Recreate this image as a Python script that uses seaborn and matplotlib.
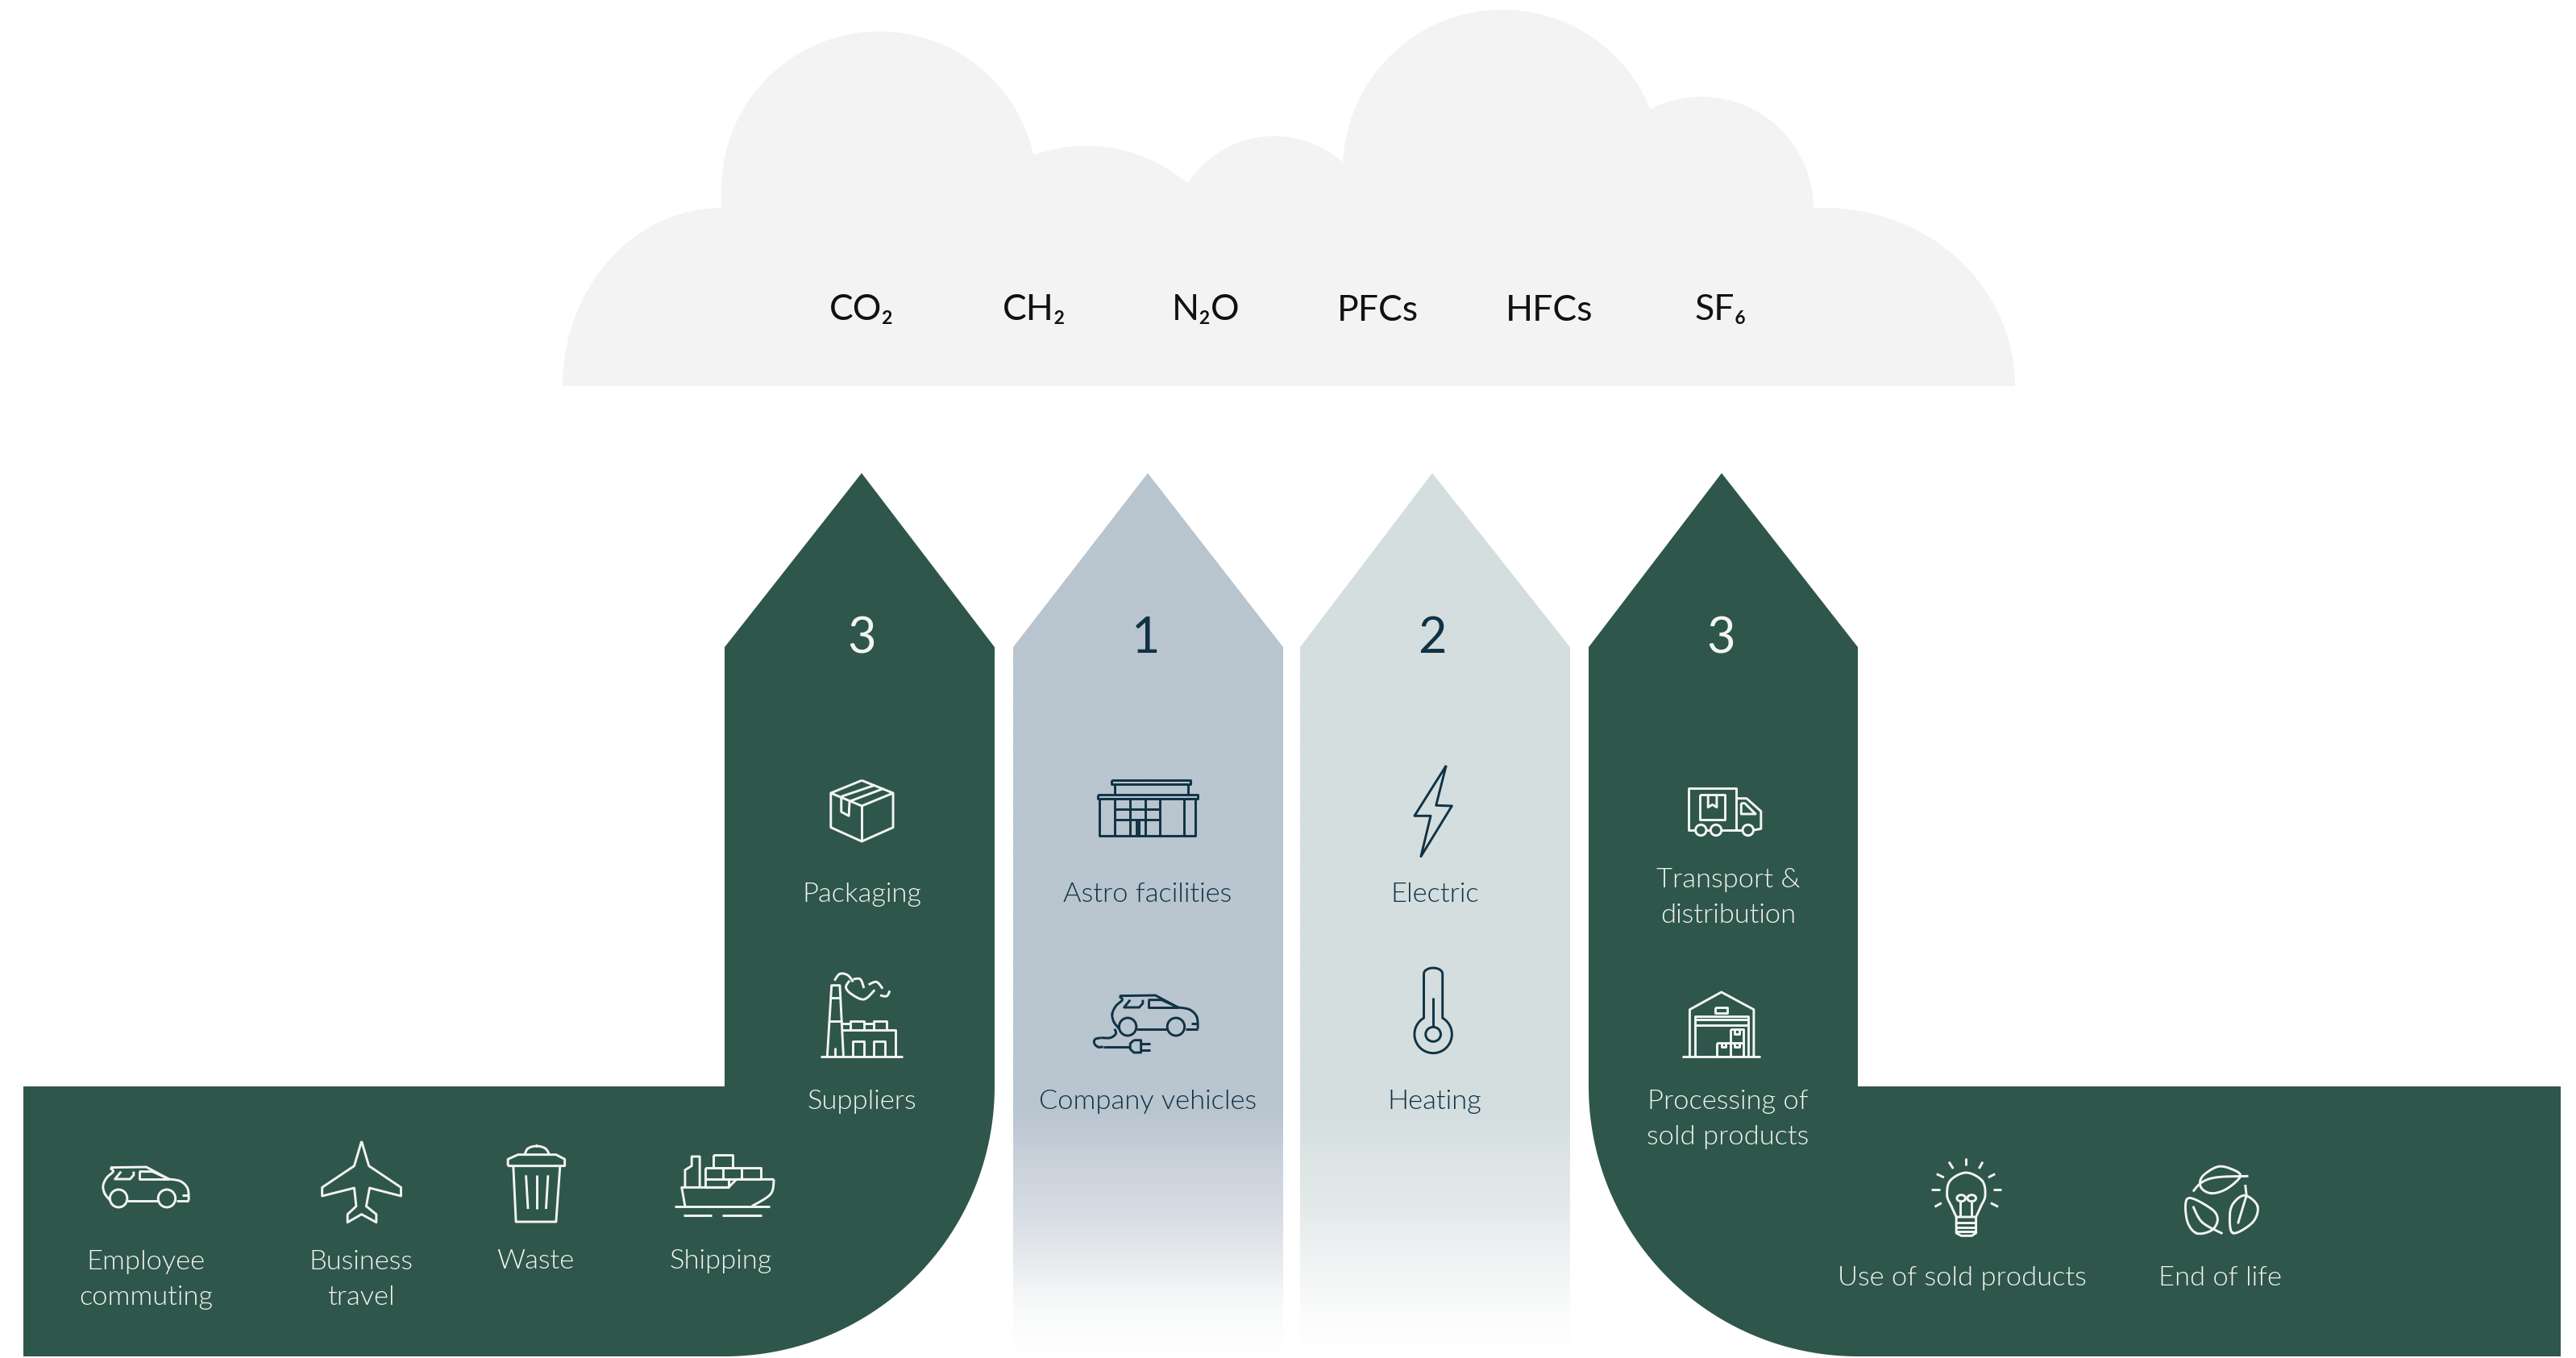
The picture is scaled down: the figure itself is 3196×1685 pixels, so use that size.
import numpy as np
import matplotlib
matplotlib.use("Agg")
import matplotlib.pyplot as plt
from matplotlib import font_manager as fm
from matplotlib.colors import LinearSegmentedColormap
from matplotlib.patches import Polygon, Ellipse
import seaborn as sns

# ---- content ----
gases = ["CO₂", "CH₂", "N₂O", "PFCs", "HFCs", "SF₆"]
scope_numbers = ["3", "1", "2", "3"]
scope3_up_labels = ["Packaging", "Suppliers", "Employee\ncommuting", "Business\ntravel", "Waste", "Shipping"]
scope1_labels = ["Astro facilities", "Company vehicles"]
scope2_labels = ["Electric", "Heating"]
scope3_down_labels = ["Transport &\ndistribution", "Processing of\nsold products", "Use of sold products", "End of life"]

DARK = "#2f564b"
INK = "#0f3245"
PALE = "#f2f5f3"
CLOUD = "#f3f3f3"

sns.set_theme(style="white")
plt.rcParams["font.family"] = ["Lato", "Noto Sans", "DejaVu Sans"]

# a light (not hairline) cut for the labels
light_file = None
for f in fm.fontManager.ttflist:
    low = f.fname.lower()
    if "lato-light" in low and "italic" not in low:
        light_file = f.fname
        break
LIGHT = fm.FontProperties(fname=light_file) if light_file else fm.FontProperties(family="Lato", weight=300)

W, H = 3196, 1685
fig = plt.figure(figsize=(W / 100, H / 100), dpi=100)
ax = fig.add_axes([0, 0, 1, 1])
sns.despine(ax=ax, left=True, bottom=True, top=True, right=True)
ax.set_xticks([]); ax.set_yticks([])


def arc(cx, cy, rx, ry, a0, a1, n=80):
    t = np.radians(np.linspace(a0, a1, n))
    return np.c_[cx + rx * np.cos(t), cy - ry * np.sin(t)]


# ---- cloud ----
cloud_outline = np.vstack([
    arc(895, 479, 197, 221, 180, 90),
    arc(1091, 235, 196, 196, 180, 13),
    arc(1348, 373, 192, 192, 110, 49),
    arc(1581, 297, 128, 128, 147, 48),
    arc(1864, 210, 198, 198, 180, 22),
    arc(2111, 259, 139, 139, 117, 0),
    arc(2264, 479, 236, 221, 90, 0),
])
ax.add_patch(Polygon(cloud_outline, closed=True, fc=CLOUD, ec="none", zorder=1))

# ---- arrows ----
TIP, SH, BAND, BOT = 587, 803, 1348, 1683
left_band = np.vstack([
    [[29, BAND], [899, BAND], [899, SH], [1069, TIP], [1234, SH]],
    arc(899, BAND, 335, 335, 0, -90),
    [[29, BOT]],
])
ax.add_patch(Polygon(left_band, closed=True, fc=DARK, ec="none", zorder=2))
right_band = np.vstack([
    [[3177, BAND], [2305, BAND], [2305, SH], [2136, TIP], [1971, SH]],
    arc(2305, BAND, 334, 335, 180, 270),
    [[3177, BOT]],
])
ax.add_patch(Polygon(right_band, closed=True, fc=DARK, ec="none", zorder=2))


def fade_column(x0, x1, tip_x, stops):
    pos = [(y - TIP) / (BOT - TIP) for y, _ in stops]
    cmap = LinearSegmentedColormap.from_list("fade", list(zip(pos, [s[1] for s in stops])), N=512)
    grad = np.linspace(0, 1, 1024)[:, None]
    im = ax.imshow(grad, cmap=cmap, vmin=0, vmax=1, extent=(x0, x1, BOT, TIP),
                   aspect="auto", zorder=2, interpolation="bilinear")
    clip = Polygon([[x0, BOT], [x0, SH], [tip_x, TIP], [x1, SH], [x1, BOT]],
                   closed=True, transform=ax.transData, fc="none", ec="none")
    ax.add_patch(clip)
    im.set_clip_path(clip)


s1 = [(587, "#b9c5cf"), (1380, "#b9c5cf"), (1433, "#c8d0da"), (1500, "#d5dbe3"), (1567, "#e8ebee"),
      (1600, "#f3f4f5"), (1633, "#fafbfb"), (1683, "#ffffff")]
s2 = [(587, "#d4dede"), (1380, "#d4dede"), (1433, "#dce4e4"), (1500, "#e4eaea"), (1567, "#f1f4f4"),
      (1600, "#f6f8f8"), (1633, "#fbfcfc"), (1683, "#ffffff")]
fade_column(1257, 1592, 1424, s1)
fade_column(1613, 1948, 1777, s2)


# ---- helpers for line icons ----
LW = 2.1


def T3(p): return [(900 + x / 2.24, 900 + y / 3) for x, y in p]
def T4(p): return [(1600 + x / 2.24, 900 + y / 3) for x, y in p]
def T2(p): return [(x / 1.206, 1300 + y / 3) for x, y in p]
def T5(p): return [(2000 + x / 1.311, 1300 + y / 3) for x, y in p]


def line(T, pts, c, closed=False):
    p = T(pts)
    if closed:
        p = p + [p[0]]
    a = np.array(p)
    ax.plot(a[:, 0], a[:, 1], color=c, lw=LW, solid_joinstyle="round", solid_capstyle="butt", zorder=5)


def smooth(T, pts, c, closed=False):
    p = np.array(T(pts), float)
    if closed:
        p = np.vstack([p[-1], p, p[0], p[1]])
    else:
        p = np.vstack([p[0], p, p[-1]])
    out = []
    for i in range(1, len(p) - 2):
        for t in np.linspace(0, 1, 14):
            a, b, d, e = p[i - 1], p[i], p[i + 1], p[i + 2]
            out.append(0.5 * (2 * b + (d - a) * t + (2 * a - 5 * b + 4 * d - e) * t ** 2 + (3 * b - a - 3 * d + e) * t ** 3))
    out = np.array(out)
    ax.plot(out[:, 0], out[:, 1], color=c, lw=LW, solid_capstyle="butt", zorder=5)


def rect(T, x0, y0, x1, y1, c):
    line(T, [(x0, y0), (x1, y0), (x1, y1), (x0, y1)], c, closed=True)


def ell(T, x, y, rx, ry, c):
    (x0, y0), (x1, y1) = T([(x - rx, y - ry), (x + rx, y + ry)])
    ax.add_patch(Ellipse(((x0 + x1) / 2, (y0 + y1) / 2), x1 - x0, y1 - y0, fc="none", ec=c, lw=LW, zorder=5))


# box
c = PALE
line(T3, [(379, 205), (466, 252), (466, 380), (379, 432), (293, 380), (293, 252)], c, True)
line(T3, [(293, 252), (379, 300), (466, 252)], c)
line(T3, [(379, 300), (379, 432)], c)
line(T3, [(322, 265), (417, 222)], c)
line(T3, [(345, 283), (440, 235)], c)
line(T3, [(322, 265), (322, 322), (343, 337), (345, 283)], c)

# factory
line(T3, [(265, 1232), (493, 1232)], c)
line(T3, [(283, 1232), (295, 968), (318, 968), (328, 1232)], c)
line(T3, [(293, 1015), (320, 1015)], c)
line(T3, [(289, 1100), (324, 1100)], c)
line(T3, [(305, 1232), (305, 1200)], c)
line(T3, [(325, 1133), (472, 1133), (472, 1232)], c)
line(T3, [(348, 1133), (348, 1100), (385, 1100), (385, 1133)], c)
line(T3, [(412, 1133), (412, 1100), (448, 1100), (448, 1133)], c)
line(T3, [(324, 1110), (348, 1110)], c)
line(T3, [(385, 1110), (412, 1110)], c)
line(T3, [(355, 1232), (355, 1175), (385, 1175), (385, 1232)], c)
line(T3, [(412, 1232), (412, 1175), (443, 1175), (443, 1232)], c)
smooth(T3, [(303, 950), (318, 925), (340, 930), (355, 955)], c)
smooth(T3, [(345, 950), (335, 975), (350, 1000), (385, 1020), (415, 985)], c)
smooth(T3, [(355, 945), (375, 945), (385, 978)], c)
smooth(T3, [(398, 965), (420, 955), (437, 980)], c)
smooth(T3, [(430, 1005), (448, 1008), (457, 988)], c)

# car shared by two icons: coordinates relative to the vehicles icon in crop units
def car(dx, dy, col):
    def T(p):
        return [(900 + x / 2.24 + dx, 900 + y / 3 + dy) for x, y in p]
    smooth(T, [(1095, 1122 + 8), (1080, 1105), (1075, 1075), (1085, 1045), (1103, 1022), (1095, 1010)], col)
    line(T, [(1095, 1007), (1195, 1005), (1258, 1050)], col)
    smooth(T, [(1258, 1050), (1290, 1058), (1310, 1085), (1313, 1130)], col)
    line(T, [(1313, 1130), (1280, 1130)], col)
    line(T, [(1142, 1130), (1228, 1130)], col)
    line(T, [(1295, 1110), (1313, 1110)], col)
    ell(T, 1118, 1122, 24, 33, col)
    ell(T, 1252, 1122, 24, 33, col)
    line(T, [(1125, 1022), (1108, 1050), (1150, 1050), (1160, 1035), (1160, 1022)], col)
    line(T, [(1175, 1022), (1175, 1050), (1258, 1050)], col)
    line(T, [(1175, 1022), (1212, 1022), (1258, 1050)], col)


car(0, 0, INK)
car(-1252, 213, PALE)

# plug of the vehicle icon
c = INK
smooth(T3, [(1082, 1130), (1085, 1148), (1070, 1163), (1045, 1163)], c)
smooth(T3, [(1045, 1163), (1028, 1168), (1025, 1183), (1035, 1197), (1050, 1197)], c)
line(T3, [(1050, 1197), (1125, 1197)], c)
line(T3, [(1135, 1172), (1155, 1172), (1155, 1218), (1135, 1218), (1125, 1205), (1125, 1185)], c, True)
line(T3, [(1155, 1185), (1180, 1185)], c)
line(T3, [(1155, 1208), (1180, 1208)], c)

# facility
rect(T3, 1074, 205, 1293, 220, c)
line(T3, [(1083, 220), (1083, 257)], c)
line(T3, [(1285, 220), (1285, 257)], c)
rect(T3, 1034, 257, 1313, 272, c)
rect(T3, 1040, 272, 1307, 410, c)
for vx in [1083, 1125, 1168, 1208, 1275]:
    line(T3, [(vx, 272), (vx, 410)], c)
line(T3, [(1083, 312), (1208, 312)], c)
line(T3, [(1083, 350), (1208, 350)], c)
for vx in [1143, 1150]:
    line(T3, [(vx, 350), (vx, 410)], c)

# bolt
line(T4, [(435, 150), (347, 337), (392, 337), (365, 488), (451, 300), (407, 298)], c, True)

# thermometer
top = arc(399, 925, 26, 22, 0, 180, 30)
bulb = arc(399, 1150, 52, 70, 120, 420, 90)
outline = np.vstack([top, bulb, top[:1]])
line(T4, [tuple(v) for v in outline], c)
ell(T4, 399, 1150, 21, 27, c)
line(T4, [(399, 1015), (399, 1123)], c)

# truck
c = PALE
line(T4, [(1125, 390), (1108, 390), (1108, 235), (1240, 235), (1240, 390)], c)
line(T4, [(1157, 390), (1170, 390)], c)
line(T4, [(1200, 390), (1259, 390)], c)
line(T4, [(1240, 272), (1270, 272), (1310, 320), (1310, 385), (1290, 390)], c)
rect(T4, 1140, 257, 1210, 350, c)
line(T4, [(1163, 257), (1163, 305), (1175, 295), (1187, 305), (1187, 257)], c)
line(T4, [(1255, 290), (1255, 330), (1295, 330), (1265, 290)], c, True)
for wx in [1143, 1185, 1274]:
    ell(T4, wx, 390, 15, 20, c)

# warehouse
line(T4, [(1090, 1232), (1308, 1232)], c)
line(T4, [(1112, 1232), (1112, 1058), (1200, 993), (1290, 1058), (1290, 1232)], c)
line(T4, [(1127, 1232), (1127, 1082), (1275, 1082), (1275, 1232)], c)
line(T4, [(1127, 1095), (1275, 1095)], c)
line(T4, [(1127, 1115), (1275, 1115)], c)
rect(T4, 1183, 1050, 1217, 1070, c)
rect(T4, 1188, 1182, 1225, 1232, c)
rect(T4, 1225, 1182, 1262, 1232, c)
rect(T4, 1225, 1132, 1262, 1182, c)
for tx, ty in [(1200, 1182), (1237, 1182), (1237, 1132)]:
    line(T4, [(tx, ty), (tx, ty + 16), (tx + 12, ty + 16), (tx + 12, ty)], c)

# plane
line(T2, [(541, 348), (552, 440), (600, 520), (600, 552), (553, 522), (548, 590), (563, 620), (563, 650),
          (541, 620), (520, 650), (520, 620), (533, 590), (530, 522), (482, 552), (482, 520), (530, 440)], c, True)

# bin
smooth(T2, [(785, 398), (790, 375), (803, 366), (816, 375), (822, 398)], c)
line(T2, [(760, 440), (760, 415), (775, 398), (832, 398), (845, 415), (845, 440)], c, True)
line(T2, [(768, 440), (772, 648), (832, 648), (838, 440)], c)
line(T2, [(787, 475), (790, 600)], c)
line(T2, [(803, 475), (803, 600)], c)
line(T2, [(820, 475), (817, 600)], c)

# ship
line(T2, [(1010, 590), (1152, 590)], c)
line(T2, [(1023, 624), (1065, 624)], c)
line(T2, [(1080, 624), (1140, 624)], c)
line(T2, [(1025, 590), (1020, 520), (1090, 520), (1102, 490), (1158, 490)], c)
smooth(T2, [(1158, 490), (1153, 545), (1125, 590)], c)
rect(T2, 1055, 448, 1082, 490, c)
rect(T2, 1082, 448, 1110, 490, c)
rect(T2, 1110, 448, 1138, 490, c)
rect(T2, 1067, 400, 1096, 448, c)
rect(T2, 1055, 490, 1090, 520, c)
line(T2, [(1025, 520), (1025, 455), (1035, 440), (1035, 405), (1047, 405), (1047, 520)], c)

# bulb
smooth(T5, [(560, 630), (552, 590), (545, 550), (550, 495), (576, 465), (602, 495), (607, 550), (600, 590), (592, 630)], c)
line(T5, [(560, 630), (592, 630), (592, 690), (585, 700), (568, 700), (560, 690)], c, True)
for sy in [650, 668, 684]:
    line(T5, [(560, sy), (592, sy)], c)
ell(T5, 568, 560, 7, 12, c)
ell(T5, 585, 560, 7, 12, c)
line(T5, [(567, 572), (567, 630)], c)
line(T5, [(585, 572), (585, 630)], c)
for r0, r1 in [((576, 410), (576, 438)), ((548, 425), (555, 450)), ((603, 425), (597, 450)),
               ((528, 470), (540, 483)), ((623, 470), (612, 483)), ((519, 528), (533, 528)),
               ((620, 528), (633, 528)), ((525, 592), (536, 578)), ((628, 592), (616, 578))]:
    line(T5, [r0, r1], c)

# leaves
smooth(T5, [(985, 443), (960, 480), (958, 520), (975, 542), (1000, 525), (1022, 478), (1008, 452)], c, True)
smooth(T5, [(945, 535), (960, 500), (985, 482), (1035, 478)], c)
smooth(T5, [(1030, 550), (1050, 590), (1042, 650), (1010, 690), (1005, 620), (1012, 575)], c, True)
line(T5, [(1030, 510), (1032, 550), (1018, 655)], c)
smooth(T5, [(937, 560), (975, 600), (985, 640), (975, 680), (950, 690), (935, 640)], c, True)
smooth(T5, [(945, 590), (960, 650), (993, 692)], c)


# ---- text ----
def label(x, y, s, col, size=24.8):
    fp = LIGHT.copy()
    fp.set_size(size)
    ax.text(x, y, s, ha="center", va="center", color=col, fontproperties=fp, linespacing=1.58, zorder=6)


gas_x = [1069, 1283, 1496, 1709, 1922, 2135]
for x, g in zip(gas_x, gases):
    ax.text(x, 385, g, ha="center", va="center", color="#111111", fontsize=32, zorder=6)

for x, n, col in zip([1069, 1422, 1777, 2135], scope_numbers, [PALE, INK, INK, PALE]):
    ax.text(x, 793, n, ha="center", va="center", color=col, fontsize=44, zorder=6)

for (x, y), s in zip([(1069, 1110), (1069, 1367), (181, 1588), (448, 1588), (664, 1565), (894, 1565)], scope3_up_labels):
    label(x, y, s, PALE)
for (x, y), s in zip([(1424, 1110), (1424, 1367)], scope1_labels):
    label(x, y, s, INK)
for (x, y), s in zip([(1780, 1110), (1780, 1367)], scope2_labels):
    label(x, y, s, INK)
for (x, y), s in zip([(2144, 1114), (2144, 1389), (2434, 1586), (2755, 1586)], scope3_down_labels):
    label(x, y, s, PALE)

ax.set_xlim(0, W)
ax.set_ylim(H, 0)
fig.savefig("out.png", dpi=100, facecolor="white")
